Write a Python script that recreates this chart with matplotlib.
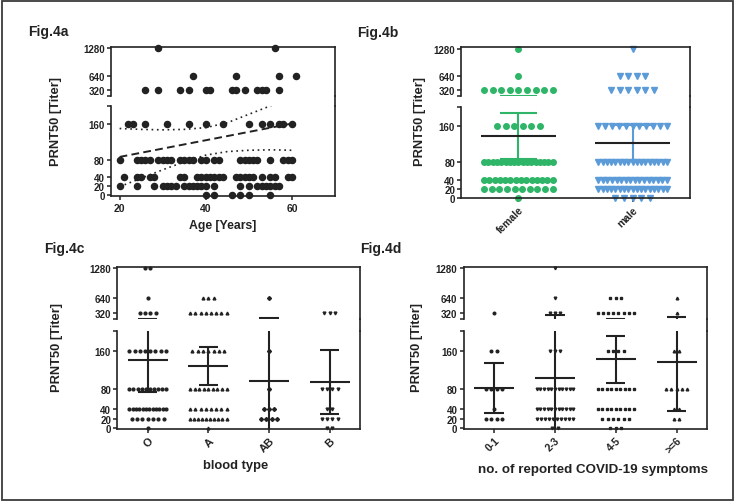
"""Fig.4a-d: PRNT50 titers vs age, sex, blood type and number of symptoms."""
import matplotlib
matplotlib.use("Agg")
import matplotlib.pyplot as plt
import numpy as np
from matplotlib.lines import Line2D
from matplotlib.patches import Rectangle

plt.rcParams.update({
    "font.family": ["Liberation Sans", "DejaVu Sans"],
    "font.weight": "bold",
    "axes.linewidth": 1.2,
    "xtick.direction": "out",
    "ytick.direction": "out",
})

ESCURO = "#222222"
VERDE = "#2eb567"
AZUL = "#5b9bd8"

# ---------------------------------------------------------------------------
# dados
# ---------------------------------------------------------------------------
LEVELS = [0, 20, 40, 80, 160, 320, 640, 1280]

# Fig.4a: idades por nivel de titulo
ages_t0 = [40, 42, 46, 48, 50, 55]
ages_t20 = [20, 24, 28, 30, 31, 32, 33, 35, 36, 37, 38, 39, 40, 42, 48, 50, 52, 53, 54, 55, 56, 57]
ages_t40 = [21, 24, 25, 27, 28, 34, 35, 38, 39, 40, 41, 42, 43, 44, 47, 48, 49, 50, 51, 53, 55, 56, 59, 60]
ages_t80 = [20, 24, 25, 26, 27, 29, 30, 31, 32, 34, 35, 36, 37, 39, 40, 42, 43, 48, 49, 50, 51, 52,
            55, 58, 59, 60]
ages_t160 = [22, 23, 26, 31, 36, 40, 44, 50, 53, 55, 57, 58, 60]
ages_t320 = [26, 29, 34, 36, 40, 41, 46, 47, 49, 52, 53, 54, 57]
ages_t640 = [37, 47, 57, 61]
ages_t1280 = [29, 56]

# regressao (tracejada) e banda de confianca (pontilhada)
fit_age = [20, 61]
fit_titer = [86, 163]
ci_age = [20, 25, 30, 35, 40, 45, 50, 55, 60]
ci_upper = [150, 148, 147, 148, 152, 163, 182, 201, 222]
ci_lower = [19, 38, 57, 75, 90, 98, 101, 102, 101]

# Fig.4b: contagem por nivel (ordem de LEVELS)
sexes = ["female", "male"]
female_counts = [1, 10, 14, 17, 6, 9, 1, 1]
male_counts = [5, 17, 16, 17, 11, 6, 4, 1]
sex_means = [137, 122]
sex_sd = [51, 40]

# Fig.4c
blood_types = ["O", "A", "AB", "B"]
o_counts = [1, 7, 12, 10, 8, 4, 1, 2]
a_counts = [1, 10, 8, 9, 7, 8, 3, 0]
ab_counts = [0, 4, 3, 1, 1, 0, 1, 0]
b_counts = [2, 4, 2, 4, 0, 3, 0, 0]
blood_means = [141, 129, 98, 96]
blood_sd = [66, 39, 123, 66]

# Fig.4d
symptom_groups = ["0-1", "2-3", "4-5", ">=6"]
s01_counts = [0, 4, 1, 4, 2, 1, 0, 0]
s23_counts = [2, 10, 11, 11, 3, 3, 1, 1]
s45_counts = [3, 6, 9, 9, 4, 8, 3, 0]
s6_counts = [0, 2, 2, 5, 2, 1, 1, 0]
symptom_means = [83, 104, 142, 136]
symptom_sd = [52, 188, 49, 100]

# ---------------------------------------------------------------------------
W, H = 734, 502
fig = plt.figure(figsize=(W / 100, H / 100), dpi=100)
fig.add_artist(Rectangle((2 / W, 1.5 / H), 730.5 / W, 499 / H, transform=fig.transFigure,
                         fill=False, edgecolor="#3a3a3a", linewidth=1.3))


def box(l, r, t, b):
    return [l / W, 1 - b / H, (r - l) / W, (b - t) / H]


def eixo_quebrado(l, r, t_up, b_up, t_lo, b_lo, up_lim, lo_lim, xlim):
    ax_up = fig.add_axes(box(l, r, t_up, b_up))
    ax_lo = fig.add_axes(box(l, r, t_lo, b_lo))
    for ax in (ax_up, ax_lo):
        ax.set_xlim(*xlim)
        ax.tick_params(length=3, width=1.1, labelsize=7, pad=1.5, colors=ESCURO)
        for s in ax.spines.values():
            s.set_color(ESCURO)
    ax_up.spines["bottom"].set_visible(False)
    ax_lo.spines["top"].set_visible(False)
    ax_up.set_ylim(*up_lim)
    ax_lo.set_ylim(*lo_lim)
    ax_up.set_yticks([up_lim[0] + 0.5, 320, 640, 1280], ["", "320", "640", "1280"])
    ax_lo.set_yticks([0, 20, 40, 80, 160, lo_lim[1] - 0.1], ["0", "20", "40", "80", "160", ""])
    ax_up.tick_params(axis="x", bottom=False, labelbottom=False)
    fig.add_artist(Line2D([r / W, r / W], [1 - b_up / H, 1 - t_lo / H], color=ESCURO, lw=1.2))
    return ax_up, ax_lo


def espalhar(counts, step, max_half):
    xs, ys = [], []
    for v, n in zip(LEVELS, counts):
        if n == 0:
            continue
        st = step if n == 1 else min(step, 2 * max_half / (n - 1))
        xs.extend((np.arange(n) - (n - 1) / 2) * st)
        ys.extend([v] * n)
    return np.array(xs), np.array(ys)


def dot_plot(axes, counts_list, means, sds, markers, colors, ecolors, mcolor,
             ms, step, max_half, mean_half, cap_half):
    ax_up, ax_lo = axes
    for i, counts in enumerate(counts_list):
        dx, ys = espalhar(counts, step, max_half)
        for ax, mask in ((ax_up, ys > 200), (ax_lo, ys <= 200)):
            ax.plot(i + dx[mask], ys[mask], markers[i], ms=ms, color=colors[i],
                    mec=colors[i], clip_on=False, zorder=2, linestyle="none")
        lo, hi = means[i] - sds[i], means[i] + sds[i]
        for ax in (ax_up, ax_lo):
            ax.vlines(i, lo, hi, color=ecolors[i], lw=1.5, zorder=3)
            ax.hlines([lo, hi], i - cap_half, i + cap_half, color=ecolors[i], lw=1.5, zorder=3)
            ax.hlines(means[i], i - mean_half, i + mean_half, color=mcolor, lw=1.5, zorder=4)


# ---------------------------------------------------------------------------
# Fig.4a
# ---------------------------------------------------------------------------
a_up, a_lo = eixo_quebrado(111, 335, 47.7, 96.7, 107.3, 197, (190, 1320), (-2, 200), (18, 70))
ages = np.concatenate([ages_t0, ages_t20, ages_t40, ages_t80, ages_t160, ages_t320, ages_t640, ages_t1280])
titers = np.concatenate([[v] * len(a) for v, a in zip(LEVELS, [ages_t0, ages_t20, ages_t40, ages_t80,
                                                                ages_t160, ages_t320, ages_t640, ages_t1280])])
for ax, mask in ((a_up, titers > 200), (a_lo, titers <= 200)):
    ax.plot(ages[mask], titers[mask], "o", ms=4.4, color=ESCURO, clip_on=False, zorder=3)
a_lo.plot(fit_age, fit_titer, color=ESCURO, lw=1.4, dashes=(4, 2.2), zorder=4)
a_lo.plot(ci_age, ci_upper, color=ESCURO, lw=1.2, dashes=(1, 2.2), zorder=4)
a_lo.plot(ci_age, ci_lower, color=ESCURO, lw=1.2, dashes=(1, 2.2), zorder=4)
a_lo.set_xticks([20, 40, 60])
a_lo.tick_params(axis="x", labelsize=7.5, pad=2)

# ---------------------------------------------------------------------------
# Fig.4b
# ---------------------------------------------------------------------------
b_axes = eixo_quebrado(461.3, 689.7, 47.7, 96.7, 108, 199.3, (190, 1335), (0, 201), (-0.5, 1.5))
dot_plot(b_axes, [female_counts, male_counts], sex_means, sex_sd, ["o", "v"], [VERDE, AZUL],
         [VERDE, AZUL], ESCURO, 4.0, 0.075, 0.3, 0.33, 0.16)
b_axes[1].set_xticks(range(2), sexes, rotation=45, ha="right", rotation_mode="anchor", fontsize=7.5)

# ---------------------------------------------------------------------------
# Fig.4c
# ---------------------------------------------------------------------------
c_axes = eixo_quebrado(117.3, 360, 267.7, 320, 332.3, 430, (200, 1308), (-1.5, 200), (-0.5, 3.5))
dot_plot(c_axes, [o_counts, a_counts, ab_counts, b_counts], blood_means, blood_sd,
         ["o", "^", "D", "v"], [ESCURO] * 4, [ESCURO] * 4, ESCURO, 2.0, 0.088, 0.3, 0.33, 0.16)
c_axes[1].set_xticks(range(4), blood_types, rotation=45, ha="right", rotation_mode="anchor", fontsize=8)

# ---------------------------------------------------------------------------
# Fig.4d
# ---------------------------------------------------------------------------
d_axes = eixo_quebrado(463.7, 707, 267.7, 320, 332.3, 430, (200, 1308), (-1.5, 200), (-0.5, 3.5))
dot_plot(d_axes, [s01_counts, s23_counts, s45_counts, s6_counts], symptom_means, symptom_sd,
         ["o", "v", "s", "^"], [ESCURO] * 4, [ESCURO] * 4, ESCURO, 1.9, 0.088, 0.3, 0.33, 0.16)
d_axes[1].set_xticks(range(4), symptom_groups, rotation=45, ha="right", rotation_mode="anchor",
                     fontsize=7.5)

# ---------------------------------------------------------------------------
# textos
# ---------------------------------------------------------------------------
for x, y, t in [(28, 32, "Fig.4a"), (357, 33, "Fig.4b"), (44, 249, "Fig.4c"), (360, 249, "Fig.4d")]:
    fig.text(x / W, 1 - y / H, t, fontsize=10, fontweight="bold", va="center", color=ESCURO)

for x, y in [(56, 122), (420, 122), (57, 348), (417, 348)]:
    fig.text(x / W, 1 - y / H, "PRNT50 [Titer]", fontsize=9.3, rotation=90, ha="center", va="center",
             color=ESCURO)

fig.text(223 / W, 1 - 226 / H, "Age [Years]", fontsize=8.8, ha="center", va="center", color=ESCURO)
fig.text(236 / W, 1 - 466 / H, "blood type", fontsize=9.4, ha="center", va="center", color=ESCURO)
fig.text(593 / W, 1 - 470 / H, "no. of reported COVID-19 symptoms", fontsize=9.6, ha="center",
         va="center", color=ESCURO)

fig.savefig("out.png", dpi=100)
